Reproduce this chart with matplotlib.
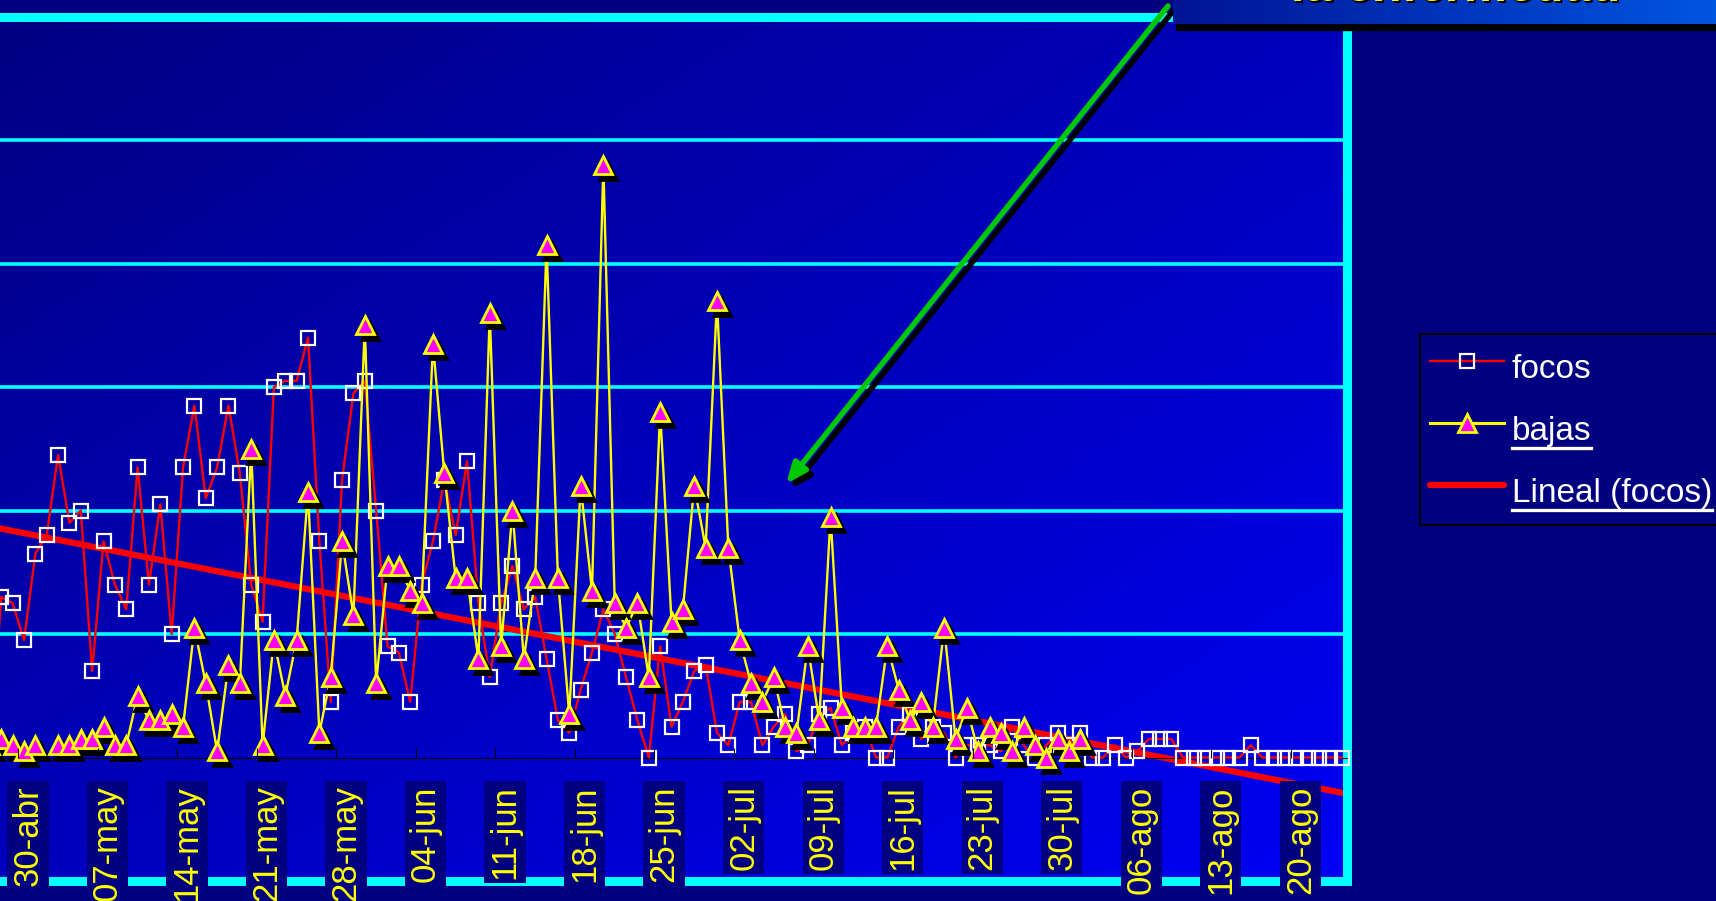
import numpy as np
import matplotlib
matplotlib.use("Agg")
import matplotlib.pyplot as plt
from matplotlib import font_manager, transforms
from matplotlib.lines import Line2D
from matplotlib.patches import FancyArrowPatch, Rectangle

# valores diarios, el primero corresponde al 27-abr
focos = [1, 26, 25, 19, 33, 36, 49, 38, 40, 14,
         35, 28, 24, 47, 28, 41, 20, 47, 57, 42,
         47, 57, 46, 28, 22, 60, 61, 61, 68, 35,
         9, 45, 59, 61, 40, 18, 17, 9, 28, 35,
         45, 36, 48, 25, 13, 25, 31, 24, 26, 16,
         6, 4, 11, 17, 24, 20, 13, 6, 0, 18,
         5, 9, 14, 15, 4, 2, 9, 9, 2, 5,
         7, 1, 2, 7, 8, 2, 4, 5, 0, 0,
         5, 7, 3, 5, 4, 0, 2, 2, 2, 1,
         5, 2, 0, 2, 4, 2, 4, 0, 0, 2,
         0, 1, 3, 3, 3, 0, 0, 0, 0, 0,
         0, 2, 0, 0, 0, 0, 0, 0, 0, 0]

bajas = [2, 3, 2, 1, 2, np.nan, 2, 2, 3, 3,
         5, 2, 2, 10, 6, 6, 7, 5, 21, 12,
         1, 15, 12, 50, 2, 19, 10, 19, 43, 4,
         13, 35, 23, 70, 12, 31, 31, 27, 25, 67,
         46, 29, 29, 16, 72, 18, 40, 16, 29, 83,
         29, 7, 44, 27, 96, 25, 21, 25, 13, 56,
         22, 24, 44, 34, 74, 34, 19, 12, 9, 13,
         5, 4, 18, 6, 39, 8, 5, 5, 5, 18,
         11, 6, 9, 5, 21, 3, 8, 1, 5, 4,
         1, 5, 2, 0, 3, 1, 3]

etiquetas = ['30-abr', '07-may', '14-may', '21-may', '28-may', '04-jun',
             '11-jun', '18-jun', '25-jun', '02-jul', '09-jul', '16-jul',
             '23-jul', '30-jul', '06-ago', '13-ago', '20-ago']

# tendencia lineal de focos en los extremos del eje
lineal = [37.6, -5.9]

ANCHO, ALTO = 1716, 901
MARINO = '#000080'
CIAN = '#00FFFF'

nombres = {f.name for f in font_manager.fontManager.ttflist}
if 'Liberation Sans Narrow' in nombres:
    fuente, tam_eje, tam_ley = 'Liberation Sans Narrow', 28, 28
else:
    fuente, tam_eje, tam_ley = 'Liberation Sans', 25, 24

dias_f = np.arange(len(focos)) - 3
dias_b = np.arange(len(bajas)) - 3
x0, x1 = -3.5, 116.5
px_dia = 11.36

fig = plt.figure(figsize=(ANCHO / 100, ALTO / 100), dpi=100, facecolor=MARINO)
ax = fig.add_axes([(24 + px_dia * x0) / ANCHO, 20 / ALTO,
                   px_dia * (x1 - x0) / ANCHO, 864.5 / ALTO])

# fondo degradado del area de trazado
gx, gy = np.meshgrid(np.linspace(0, 1, 300), np.linspace(0, 1, 300))
fondo = np.zeros((300, 300, 3))
fondo[..., 2] = (130 + 115 * (gx + gy) / 2) / 255
ax.imshow(fondo, extent=(0, 1, 0, 1), transform=ax.transAxes,
          aspect='auto', zorder=0, interpolation='bilinear')

for g in range(20, 120, 20):
    ax.axhline(g, color=CIAN, lw=2.6, zorder=1)
ax.axhline(-20, color=CIAN, lw=6.5, zorder=1.6, clip_on=False)

ax.plot([x0, x1], lineal, color='red', lw=4.5, zorder=2, solid_capstyle='butt')
ax.plot(dias_f, focos, color='red', lw=1.7, marker='s', ms=10.3, mfc='none',
        mec='white', mew=1.6, zorder=3, clip_on=False)
ax.plot(dias_b, bajas, color='yellow', lw=1.7, zorder=4)
sombra = transforms.offset_copy(ax.transData, fig=fig, x=5, y=-6, units='dots')
ax.plot(dias_b, bajas, ls='none', marker='^', ms=12.5, color='black', mew=2,
        transform=sombra, zorder=4.5)
ax.plot(dias_b, bajas, ls='none', marker='^', ms=12.5, mfc='#FF00FF',
        mec='yellow', mew=2, zorder=5)

ax.set_xlim(x0, x1)
ax.set_ylim(-20, 120)
ax.spines['left'].set_visible(False)
for lado in ('top', 'right'):
    ax.spines[lado].set_color(CIAN)
    ax.spines[lado].set_linewidth(6.5)
ax.spines['bottom'].set_position(('data', 0))
ax.spines['bottom'].set_color('black')
ax.spines['bottom'].set_linewidth(0.8)
ax.set_yticks([])

ax.set_xticks(np.arange(0, 113, 7))
ax.set_xticklabels(etiquetas, rotation=90, color='yellow', fontsize=tam_eje,
                   family=fuente)
ax.set_xticks(np.arange(-0.5, 116, 7), minor=True)
ax.tick_params(axis='x', which='major', length=0, pad=20)
ax.tick_params(axis='x', which='minor', direction='in', length=7,
               width=0.8, color='black')
corrimiento = transforms.ScaledTranslation(4 / 100, 0, fig.dpi_scale_trans)
for t in ax.get_xticklabels():
    t.set_bbox(dict(facecolor=MARINO, edgecolor='none',
                    boxstyle='square,pad=0.12'))
    t.set_transform(t.get_transform() + corrimiento)
ax.xaxis.set_zorder(6)

# flecha verde con sombra
ini = (1168 / ANCHO, 1 - 6 / ALTO)
fin = (786 / ANCHO, 1 - 484 / ALTO)
for dx, dy, col, z in [(5, -5, 'black', 7), (0, 0, '#00C800', 8)]:
    fig.add_artist(FancyArrowPatch(
        (ini[0] + dx / ANCHO, ini[1] + dy / ALTO),
        (fin[0] + dx / ANCHO, fin[1] + dy / ALTO),
        transform=fig.transFigure, arrowstyle='-|>,head_length=12,head_width=5',
        mutation_scale=1, color=col, lw=4, zorder=z, shrinkA=0, shrinkB=0))

# recuadro del titulo
fig.add_artist(Rectangle((1176 / ANCHO, 1 - 30 / ALTO), 1, 7 / ALTO,
                         transform=fig.transFigure, color='black', zorder=8.5))
cab = fig.add_axes([1173 / ANCHO, 1 - 24 / ALTO, 1 - 1173 / ANCHO, 24 / ALTO])
cab.set_zorder(9)
cab.axis('off')
grad = np.zeros((2, 256, 3))
grad[..., 1] = np.linspace(20, 85, 256) / 255
grad[..., 2] = np.linspace(150, 225, 256) / 255
cab.imshow(grad, aspect='auto', extent=(0, 1, 0, 1))
for dx, dy, col, z in [(2, -2, 'black', 10), (0, 0, 'yellow', 11)]:
    fig.text(0.848, 1 - 1 / ALTO, 'la enfermedad', ha='center', va='baseline',
             fontsize=35, fontweight='bold', family='Liberation Sans', color=col,
             zorder=z,
             transform=transforms.offset_copy(fig.transFigure, fig=fig,
                                              x=dx, y=dy, units='dots'))

mano = [Line2D([], [], color='red', lw=1.7, marker='s', ms=10.3, mfc='none',
               mec='white', mew=1.6),
        Line2D([], [], color='yellow', lw=2.2, marker='^', ms=12.5,
               mfc='#FF00FF', mec='yellow', mew=2),
        Line2D([], [], color='red', lw=4.5, solid_capstyle='round')]
leg = fig.legend(mano, ['focos', 'bajas', 'Lineal (focos)'], loc='upper left',
                 bbox_to_anchor=(1419.5 / ANCHO, 1 - 333.8 / ALTO),
                 bbox_transform=fig.transFigure, frameon=True,
                 facecolor=MARINO, edgecolor='black', framealpha=1,
                 fancybox=False, borderpad=0.32, handlelength=2.2,
                 handleheight=1.77, handletextpad=0.25, labelspacing=0.45,
                 borderaxespad=0, labelcolor='white',
                 prop={'family': fuente, 'size': tam_ley})
leg.get_frame().set_linewidth(1.5)

# subrayado de las entradas enlazadas
fig.canvas.draw()
rend = fig.canvas.get_renderer()
inv = fig.transFigure.inverted()
for t in leg.get_texts()[1:]:
    bb = t.get_window_extent(rend)
    (a, b), (c, _) = inv.transform([(bb.x0, bb.y0 - 1), (bb.x1, bb.y0)])
    fig.add_artist(Line2D([a, c], [b, b], color='white', lw=2.4,
                          transform=fig.transFigure, zorder=6))

fig.savefig('out.png', dpi=100, facecolor=MARINO)
